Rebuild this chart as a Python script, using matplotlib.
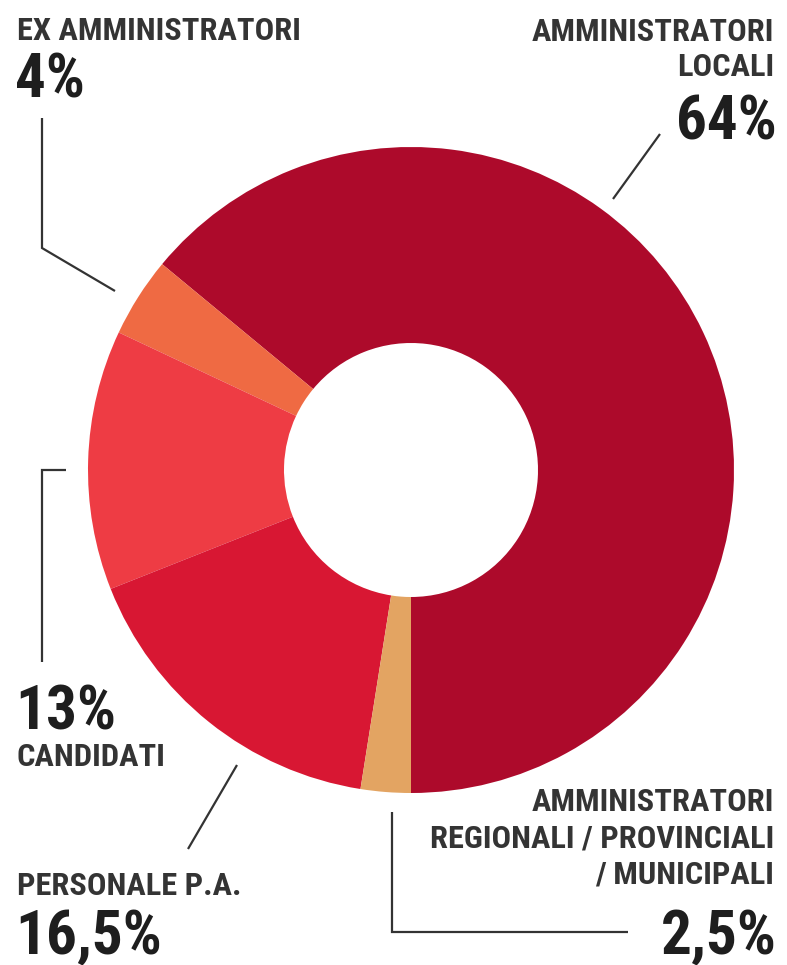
import matplotlib
matplotlib.use('Agg')
import matplotlib.pyplot as plt

# Data
labels = ['AMMINISTRATORI\nLOCALI', 'EX AMMINISTRATORI', 'CANDIDATI',
          'PERSONALE P.A.', 'AMMINISTRATORI\nREGIONALI / PROVINCIALI\n/ MUNICIPALI']
values = [64, 4, 13, 16.5, 2.5]
value_text = ['64%', '4%', '13%', '16,5%', '2,5%']
colors = ['#AD0A2B', '#EF6A43', '#EE3C44', '#D81733', '#E3A462']

W, H = 787, 965
FONT = ['Roboto Condensed', 'Roboto', 'DejaVu Sans']
LABEL_COL = '#343434'
NUM_COL = '#1e1e1e'
LAB_FS = 23.3
NUM_FS = 44


def py(y):
    # pixel row (from top) -> data y
    return H - y


fig = plt.figure(figsize=(W / 100, H / 100), dpi=100)
ax = fig.add_axes([0, 0, 1, 1])

cx, cy, R, r = 411, 470, 323, 127
ax.pie(values, colors=colors, startangle=-90, counterclock=True,
       center=(cx, py(cy)), radius=R, frame=True,
       wedgeprops=dict(width=R - r, linewidth=0))
ax.set_xlim(0, W)
ax.set_ylim(0, H)
ax.set_aspect('equal')
ax.axis('off')


def lab(x, y, s, ha='left', fs=LAB_FS, col=LABEL_COL, ls=1.2):
    ax.text(x, py(y), s, ha=ha, va='top', fontsize=fs, color=col,
            fontweight='bold', family=FONT, linespacing=ls, multialignment=ha)


def line(xs, ys):
    ax.plot(xs, [py(v) for v in ys], color='#333333', lw=1.6,
            solid_capstyle='butt', solid_joinstyle='miter')


# AMMINISTRATORI LOCALI (top right)
lab(774, 17, labels[0], ha='right')
lab(777, 94, value_text[0], ha='right', fs=NUM_FS, col=NUM_COL)
line([660, 613], [134, 199])

# EX AMMINISTRATORI (top left)
lab(17, 16, labels[1])
lab(15, 52, value_text[1], fs=NUM_FS, col=NUM_COL)
line([42, 42, 115], [118, 248, 291])

# CANDIDATI (left)
line([66, 42, 42], [470, 470, 662])
lab(15, 684, value_text[2], fs=NUM_FS, col=NUM_COL)
lab(17, 742, labels[2])

# PERSONALE P.A. (bottom left)
line([237, 188], [765, 849])
lab(17, 871, labels[3])
lab(15, 908, value_text[3], fs=NUM_FS, col=NUM_COL)

# AMMINISTRATORI REGIONALI / PROVINCIALI / MUNICIPALI (bottom right)
line([392, 392, 628], [812, 932, 932])
lab(774, 787, labels[4], ha='right', ls=1.26)
lab(777, 908, value_text[4], ha='right', fs=NUM_FS, col=NUM_COL)

fig.savefig('out.png', dpi=100, facecolor='white')
